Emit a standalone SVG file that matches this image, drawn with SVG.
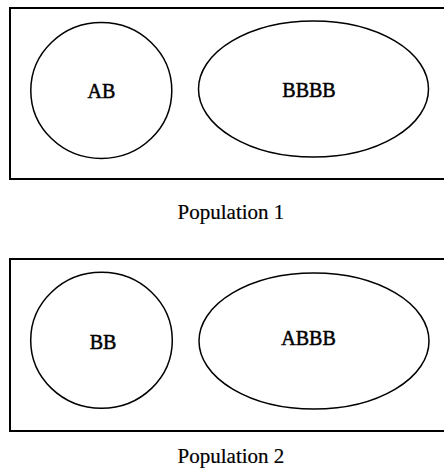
<svg xmlns="http://www.w3.org/2000/svg" width="444" height="470" viewBox="0 0 444 470">
<style>
.frame{fill:none;stroke:#000;stroke-width:2}
.set{fill:none;stroke:#000;stroke-width:1.5}
text{font-family:"Liberation Serif","Times New Roman",serif;font-size:20px;fill:#000;text-anchor:middle}
.lbl{stroke:#000;stroke-width:0.5}
.cap{font-size:21px;stroke:#000;stroke-width:0.2}
</style>
<rect width="444" height="470" fill="#fff"/>
<g id="population1">
<rect class="frame" x="10" y="8" width="440" height="171"/>
<g id="node-AB"><ellipse class="set" cx="101.3" cy="90.5" rx="70.5" ry="68"/><text class="lbl" x="101.5" y="98">AB</text></g>
<g id="node-BBBB"><ellipse class="set" cx="313.5" cy="89" rx="115" ry="68"/><text class="lbl" x="309" y="97">BBBB</text></g>
<text class="cap" x="231" y="219">Population 1</text>
</g>
<g id="population2">
<rect class="frame" x="10" y="259" width="440" height="172"/>
<g id="node-BB"><ellipse class="set" cx="101.5" cy="340.3" rx="70.8" ry="68"/><text class="lbl" x="103" y="349">BB</text></g>
<g id="node-ABBB"><ellipse class="set" cx="314" cy="341" rx="115" ry="68"/><text class="lbl" x="308.5" y="345">ABBB</text></g>
<text class="cap" x="231" y="463">Population 2</text>
</g>
<g id="connectors"/>
</svg>
